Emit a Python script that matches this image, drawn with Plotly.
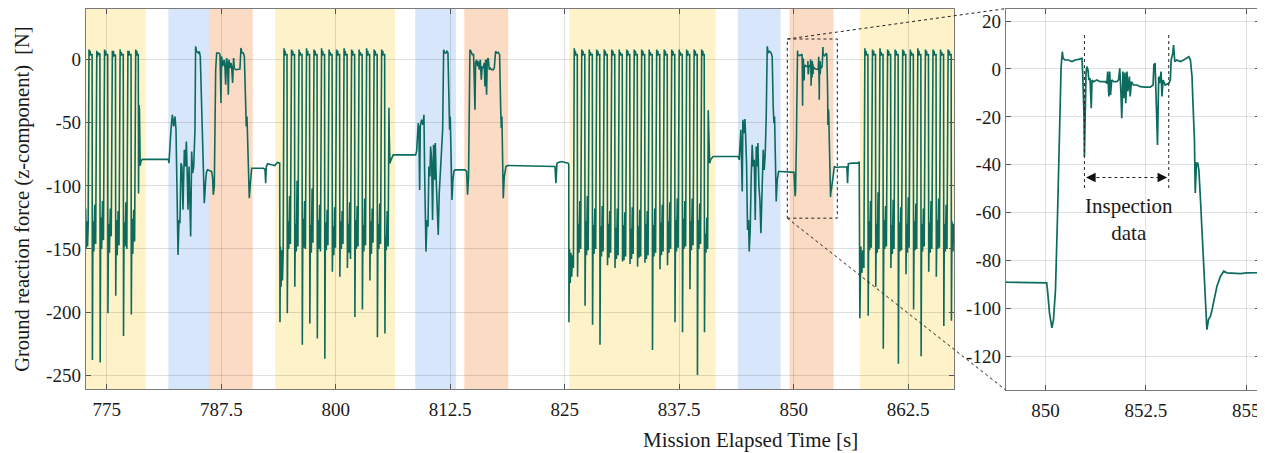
import plotly.graph_objects as go

# ---------------- data ----------------
# background phase bands [s]
band_start = [772.70, 781.72, 786.16, 793.40, 808.68, 814.03, 825.49, 843.90, 849.55, 857.22]
band_end = [779.25, 786.16, 790.93, 806.46, 813.12, 818.83, 841.47, 848.57, 854.35, 867.50]
band_phase = ["yellow", "blue", "orange", "yellow", "blue", "orange", "yellow", "blue", "orange", "yellow"]

# ground reaction force trace: (time [s], force [N]) pairs, segment by segment
walk1 = [
    (772.70, -118), (772.75, -150), (772.82, -128), (772.90, -148), (772.97, -132),
    (773.06, 8), (773.11, 3), (773.18, 7), (773.22, 4), (773.40, 4), (773.43, -238), (773.49, -128), (773.59, -152), (773.69, -115), (773.79, -146),
    (773.91, 7), (773.96, 2), (774.03, 6), (774.07, 4), (774.25, 5), (774.28, -240), (774.34, -125), (774.44, -150), (774.54, -112), (774.64, -143),
    (774.76, 8), (774.81, 3), (774.88, 7), (774.92, 4), (775.10, 4), (775.13, -201), (775.19, -130), (775.29, -153), (775.39, -118), (775.49, -140),
    (775.61, 7), (775.66, 2), (775.73, 7), (775.77, 3), (775.95, 4), (775.98, -187), (776.04, -127), (776.14, -155), (776.24, -120), (776.34, -147),
    (776.46, 8), (776.51, 3), (776.58, 6), (776.62, 4), (776.80, 4), (776.83, -219), (776.89, -129), (776.99, -148), (777.09, -113), (777.19, -150),
    (777.31, 7), (777.36, 3), (777.43, 7), (777.47, 4), (777.65, 4), (777.68, -202), (777.74, -126), (777.84, -154), (777.94, -119), (778.04, -144),
    (778.16, 8), (778.21, 3), (778.28, 7), (778.32, 4), (778.44, 4), (778.47, -106), (778.52, -36), (778.57, -40), (778.65, -84), (778.75, -80), (778.90, -79),
]
transfer1 = [
    (781.72, -78.8), (781.79, -82.0), (782.01, -55.6), (782.16, -43.6), (782.30, -52.9), (782.45, -45.0), (782.56, -55.6),
    (782.63, -88.6), (782.70, -129.6), (782.78, -154.8), (782.89, -127.0), (782.99, -129.6), (783.10, -82.0), (783.21, -84.7),
    (783.32, -119.0), (783.47, -71.4), (783.58, -84.7), (783.69, -64.8), (783.79, -92.6), (783.87, -119.0), (783.98, -84.7),
    (784.09, -116.4), (784.16, -140.2), (784.27, -72.8), (784.38, -89.9), (784.49, -84.7), (784.63, -55.6), (784.70, 10.6),
    (784.81, 6.6), (784.99, 5.3), (785.10, 6.6), (785.21, 2.6), (785.36, -42.3), (785.43, -52.9), (785.54, -84.7),
    (785.65, -113.8), (785.80, -95.2), (785.90, -88.6), (786.01, -87.3), (786.45, -88.6), (786.56, -93.9), (786.63, -107.1),
    (786.74, -100.5), (786.89, -7.9), (787.00, 5.3), (787.25, 5.3), (787.36, 4.0), (787.47, -34.4), (787.54, 2.6),
    (787.65, -5.3), (787.72, -2.6), (787.83, 0.0), (787.91, -6.6), (787.98, -19.8), (788.09, 1.3), (788.20, -5.3),
    (788.27, -27.8), (788.34, 0.0), (788.45, -6.6), (788.56, -2.6), (788.63, -5.3), (788.74, -18.5), (788.85, 1.3),
    (788.92, -6.6), (789.07, -7.9), (789.36, -7.9), (789.54, -7.4), (789.65, 9.3), (789.76, 5.3), (789.91, 5.3),
    (790.02, 2.6), (790.16, -34.4), (790.23, -52.9), (790.31, -45.0), (790.42, -74.1), (790.56, -109.8), (790.71, -95.2),
    (790.82, -86.0), (791.18, -86.0), (792.09, -86.0), (792.27, -86.8), (792.35, -97.9), (792.42, -84.7), (792.56, -82.5),
    (793.00, -83.3), (793.36, -83.9), (793.62, -81.5), (793.88, -82.0),
]
walk2 = [
    (793.91, -208), (793.96, -148), (794.03, -180), (794.10, -151), (794.18, -175), (794.26, -153),
    (794.35, 9), (794.40, 3), (794.47, 7), (794.51, 4), (794.68, 4), (794.71, -201), (794.77, -128), (794.87, -150), (794.96, -108), (795.05, -146),
    (795.17, 8), (795.22, 3), (795.29, 7), (795.33, 4), (795.50, 4), (795.53, -180), (795.59, -130), (795.69, -152), (795.78, -96), (795.87, -148),
    (795.99, 8), (796.04, 3), (796.11, 6), (796.15, 4), (796.32, 4), (796.35, -226), (796.41, -126), (796.51, -149), (796.60, -112), (796.69, -150),
    (796.81, 9), (796.86, 3), (796.93, 7), (796.97, 4), (797.14, 4), (797.17, -209), (797.23, -131), (797.33, -153), (797.42, -102), (797.51, -145),
    (797.63, 8), (797.68, 3), (797.75, 7), (797.79, 4), (797.96, 4), (797.99, -221), (798.05, -127), (798.15, -150), (798.24, -115), (798.33, -152),
    (798.45, 9), (798.50, 3), (798.57, 7), (798.61, 4), (798.78, 4), (798.81, -237), (798.87, -129), (798.97, -151), (799.06, -119), (799.15, -147),
    (799.27, 8), (799.32, 3), (799.39, 6), (799.43, 4), (799.60, 4), (799.63, -168), (799.69, -132), (799.79, -155), (799.88, -117), (799.97, -149),
    (800.09, 8), (800.14, 3), (800.21, 7), (800.25, 4), (800.42, 4), (800.45, -172), (800.51, -128), (800.61, -150), (800.70, -120), (800.79, -146),
    (800.91, 9), (800.96, 3), (801.03, 7), (801.07, 4), (801.24, 4), (801.27, -165), (801.33, -130), (801.43, -153), (801.52, -113), (801.61, -158),
    (801.73, 8), (801.78, 3), (801.85, 7), (801.89, 4), (802.06, 4), (802.09, -204), (802.15, -127), (802.25, -150), (802.34, -116), (802.43, -148),
    (802.55, 8), (802.60, 3), (802.67, 6), (802.71, 4), (802.88, 4), (802.91, -198), (802.97, -131), (803.07, -152), (803.16, -110), (803.25, -147),
    (803.37, 9), (803.42, 3), (803.49, 7), (803.53, 4), (803.70, 4), (803.73, -175), (803.79, -128), (803.89, -154), (803.98, -118), (804.07, -145),
    (804.19, 8), (804.24, 3), (804.31, 7), (804.35, 4), (804.52, 4), (804.55, -220), (804.61, -130), (804.71, -150), (804.80, -114), (804.89, -146),
    (805.01, 8), (805.06, 3), (805.13, 7), (805.17, 4), (805.34, 4), (805.37, -217), (805.43, -140), (805.52, -151), (805.62, -120), (805.72, -148),
    (805.81, -38), (805.84, -60), (805.92, -82), (806.00, -80), (806.28, -75.4),
]
transfer2 = [
    (808.72, -75.4), (808.83, -72.7), (809.01, -50.3), (809.08, -55.6), (809.16, -103.2), (809.23, -52.9), (809.37, -47.6),
    (809.52, -51.6), (809.63, -43.6), (809.70, -87.3), (809.77, -137.6), (809.85, -152.1), (809.96, -127.0), (810.07, -132.3),
    (810.17, -84.7), (810.28, -92.6), (810.36, -68.8), (810.47, -79.4), (810.57, -127.0), (810.68, -67.5), (810.79, -95.2),
    (810.87, -66.1), (810.98, -97.9), (811.08, -116.4), (811.19, -138.9), (811.30, -105.8), (811.41, -89.9), (811.52, -82.0),
    (811.67, -55.6), (811.78, 7.9), (811.92, 5.3), (812.03, 5.3), (812.14, 6.6), (812.25, 5.3), (812.36, -37.0),
    (812.43, -55.6), (812.50, -45.0), (812.58, -79.4), (812.69, -111.1), (812.79, -95.2), (812.90, -88.6), (813.01, -87.3),
    (814.10, -87.3), (814.29, -88.6), (814.39, -107.1), (814.50, -92.6), (814.65, 7.9), (814.76, 6.6), (814.91, 4.0),
    (815.05, 4.0), (815.20, -39.7), (815.27, -2.6), (815.38, 0.0), (815.49, -5.3), (815.56, -1.3), (815.67, -7.9),
    (815.78, 0.0), (815.89, -15.9), (815.99, -5.3), (816.11, -6.6), (816.21, -2.6), (816.29, -21.2), (816.36, 0.0),
    (816.47, -27.8), (816.54, 0.0), (816.65, 1.3), (816.76, -7.9), (816.87, -6.6), (817.02, -7.9), (817.20, -7.9),
    (817.31, -6.6), (817.45, 6.6), (817.60, 5.3), (817.74, 5.8), (817.89, 4.0), (818.00, -37.0), (818.07, -54.2),
    (818.14, -45.0), (818.22, -82.0), (818.29, -109.8), (818.40, -92.6), (818.58, -84.7), (818.76, -83.9), (823.93, -84.7),
    (824.04, -97.9), (824.15, -82.0), (824.29, -81.5), (824.66, -80.7), (825.38, -82.0), (825.44, -83.0),
]
walk3 = [
    (825.46, -208), (825.52, -150), (825.60, -177), (825.68, -153), (825.76, -172), (825.85, -155), (825.95, -165),
    (826.04, 9), (826.09, 3), (826.16, 7), (826.20, 4), (826.37, 4), (826.40, -172), (826.46, -130), (826.56, -153), (826.65, -112), (826.74, -150),
    (826.86, 8), (826.91, 3), (826.98, 7), (827.02, 4), (827.19, 4), (827.22, -195), (827.28, -128), (827.38, -155), (827.47, -108), (827.56, -151),
    (827.68, 8), (827.73, 3), (827.80, 6), (827.84, 4), (828.01, 4), (828.04, -210), (828.10, -131), (828.20, -154), (828.29, -118), (828.38, -150),
    (828.49, 8), (828.54, 3), (828.61, 7), (828.65, 4), (828.82, 4), (828.85, -226), (828.91, -132), (829.01, -156), (829.10, -116), (829.19, -152),
    (829.31, 8), (829.36, 3), (829.43, 7), (829.47, 4), (829.64, 4), (829.67, -163), (829.73, -130), (829.83, -157), (829.92, -120), (830.01, -153),
    (830.13, 8), (830.18, 3), (830.25, 7), (830.29, 4), (830.46, 4), (830.49, -165), (830.55, -133), (830.65, -158), (830.74, -118), (830.83, -155),
    (830.95, 8), (831.00, 3), (831.07, 6), (831.11, 4), (831.28, 4), (831.31, -160), (831.37, -131), (831.47, -159), (831.56, -121), (831.65, -156),
    (831.77, 8), (831.82, 3), (831.89, 7), (831.93, 4), (832.10, 4), (832.13, -162), (832.19, -134), (832.29, -158), (832.38, -117), (832.47, -154),
    (832.59, 8), (832.64, 3), (832.71, 7), (832.75, 4), (832.92, 4), (832.95, -164), (833.01, -132), (833.11, -157), (833.20, -119), (833.29, -156),
    (833.40, 8), (833.45, 3), (833.52, 7), (833.56, 4), (833.73, 4), (833.76, -161), (833.82, -130), (833.92, -158), (834.01, -120), (834.10, -155),
    (834.22, 8), (834.27, 3), (834.34, 6), (834.38, 4), (834.55, 4), (834.58, -230), (834.64, -131), (834.74, -156), (834.83, -118), (834.92, -153),
    (835.04, 8), (835.09, 3), (835.16, 7), (835.20, 4), (835.37, 4), (835.40, -166), (835.46, -129), (835.56, -155), (835.65, -115), (835.74, -152),
    (835.86, 8), (835.91, 3), (835.98, 7), (836.02, 4), (836.19, 4), (836.22, -163), (836.28, -128), (836.38, -153), (836.47, -113), (836.56, -150),
    (836.68, 8), (836.73, 3), (836.80, 7), (836.84, 4), (837.01, 4), (837.04, -208), (837.10, -127), (837.20, -152), (837.29, -110), (837.38, -149),
    (837.50, 8), (837.55, 3), (837.62, 6), (837.66, 4), (837.83, 4), (837.86, -216), (837.92, -126), (838.02, -150), (838.11, -112), (838.20, -148),
    (838.31, 8), (838.36, 3), (838.43, 7), (838.47, 4), (838.64, 4), (838.67, -182), (838.73, -128), (838.83, -151), (838.92, -110), (839.01, -147),
    (839.13, 8), (839.18, 3), (839.25, 7), (839.29, 4), (839.46, 4), (839.49, -250), (839.55, -127), (839.65, -150), (839.74, -114), (839.83, -146),
    (839.95, 8), (840.00, 3), (840.07, 7), (840.11, 4), (840.23, 4), (840.26, -216), (840.32, -138), (840.42, -153), (840.52, -125), (840.60, -150),
    (840.67, -40), (840.72, -55), (840.82, -82), (840.95, -79), (841.20, -76.7),
]
transfer3 = [
    (843.94, -76.7), (844.05, -79.4), (844.23, -55.6), (844.38, -104.5), (844.45, -47.6), (844.56, -58.2), (844.67, -47.1),
    (844.74, -58.2), (844.85, -82.0), (844.96, -134.9), (845.07, -127.0), (845.14, -152.1), (845.25, -134.9), (845.36, -92.6),
    (845.47, -67.5), (845.58, -84.7), (845.69, -79.4), (845.80, -127.0), (845.91, -68.8), (846.02, -84.7), (846.09, -66.1),
    (846.20, -100.5), (846.31, -111.1), (846.42, -137.6), (846.56, -89.9), (846.67, -71.4), (846.78, -87.3), (846.89, -74.1),
    (847.00, -45.0), (847.11, 10.6), (847.22, 5.3), (847.36, 6.6), (847.51, 5.8), (847.65, 2.6), (847.76, -37.0),
    (847.84, -50.3), (847.91, -45.0), (847.98, -74.1), (848.09, -112.4), (848.20, -95.2), (848.35, -88.6), (848.53, -88.6),
]
inspection = [
    (849.04, -89.0), (850.03, -89.3), (850.05, -92.1), (850.10, -101.8), (850.16, -108.1), (850.20, -104.6), (850.25, -92.1),
    (850.30, -61.5), (850.33, -40.7), (850.37, -19.9), (850.39, 1.0), (850.42, 7.2), (850.44, 4.4), (850.49, 3.75),
    (850.57, 3.75), (850.66, 3.1), (850.74, 3.75), (850.82, 4.0), (850.91, 4.4), (850.93, -3.2), (850.96, -19.9),
    (850.97, -36.5), (850.99, -12.9), (851.01, -1.8), (851.03, 1.0), (851.06, -0.4), (851.08, -4.6), (851.11, -3.9),
    (851.14, -16.4), (851.16, -4.6), (851.20, -5.3), (851.28, -4.6), (851.36, -5.3), (851.49, -5.3), (851.53, -6.0),
    (851.55, -1.1), (851.58, -11.5), (851.60, -1.1), (851.62, -10.8), (851.65, -4.6), (851.70, -5.3), (851.78, -5.3),
    (851.82, -4.6), (851.85, 0.3), (851.88, -10.1), (851.90, -20.6), (851.93, -1.1), (851.95, -12.2), (851.98, -1.5),
    (852.00, -14.3), (852.03, -1.1), (852.05, -9.4), (852.09, -3.2), (852.11, -11.5), (852.14, -5.3), (852.19, -6.7),
    (852.28, -6.7), (852.36, -7.4), (852.48, -7.6), (852.61, -7.6), (852.68, -6.7), (852.70, 1.7), (852.73, 2.4),
    (852.75, -10.1), (852.78, -21.9), (852.79, -31.7), (852.82, -3.2), (852.84, -6.0), (852.88, -1.1), (852.90, -11.5),
    (852.93, -4.6), (852.98, -6.7), (853.07, -6.0), (853.11, -4.6), (853.13, 3.75), (853.17, 6.5), (853.19, 10.0),
    (853.22, 3.1), (853.27, 3.75), (853.36, 3.1), (853.44, 3.75), (853.52, 4.4), (853.57, 5.1), (853.61, 3.75),
    (853.65, -3.2), (853.67, -12.9), (853.71, -29.6), (853.73, -51.8), (853.76, -39.3), (853.79, -39.3), (853.82, -42.1),
    (853.86, -54.6), (853.90, -68.5), (853.94, -86.5), (853.98, -100.4), (854.02, -108.8), (854.06, -104.6), (854.11, -103.2),
    (854.15, -100.4), (854.19, -97.6), (854.23, -93.5), (854.27, -90.7), (854.36, -86.5), (854.44, -84.4), (854.52, -85.1),
    (854.69, -85.4), (854.85, -85.4), (855.02, -85.1), (855.34, -85.1),
]
standing4 = [
    (855.80, -85.0), (855.88, -97.9), (855.96, -82.5), (856.40, -82.0), (857.11, -82.0), (857.15, -80.7),
]
walk4 = [
    (857.22, -205), (857.33, -148), (857.44, -169), (857.55, -151), (857.66, -165),
    (857.77, 9), (857.82, 3), (857.89, 7), (857.93, 4), (858.10, 4), (858.13, -203), (858.19, -128), (858.29, -151), (858.38, -112), (858.47, -149),
    (858.60, 8), (858.65, 3), (858.72, 7), (858.76, 4), (858.93, 4), (858.96, -180), (859.02, -130), (859.12, -153), (859.21, -105), (859.30, -150),
    (859.42, 9), (859.47, 3), (859.54, 6), (859.58, 4), (859.75, 4), (859.78, -229), (859.84, -127), (859.94, -150), (860.03, -116), (860.12, -148),
    (860.25, 8), (860.30, 3), (860.37, 7), (860.41, 4), (860.58, 4), (860.61, -165), (860.67, -131), (860.77, -154), (860.86, -111), (860.95, -150),
    (861.07, 8), (861.12, 3), (861.19, 7), (861.23, 4), (861.40, 4), (861.43, -241), (861.49, -129), (861.59, -152), (861.68, -117), (861.77, -151),
    (861.90, 8), (861.95, 3), (862.02, 7), (862.06, 4), (862.23, 4), (862.26, -170), (862.32, -130), (862.42, -153), (862.51, -109), (862.60, -149),
    (862.73, 8), (862.78, 3), (862.85, 6), (862.89, 4), (863.06, 4), (863.09, -198), (863.15, -128), (863.25, -151), (863.34, -114), (863.43, -150),
    (863.55, 9), (863.60, 3), (863.67, 7), (863.71, 4), (863.88, 4), (863.91, -235), (863.97, -130), (864.07, -152), (864.16, -118), (864.25, -148),
    (864.38, 8), (864.43, 3), (864.50, 7), (864.54, 4), (864.71, 4), (864.74, -168), (864.80, -129), (864.90, -153), (864.99, -112), (865.08, -150),
    (865.21, 8), (865.26, 3), (865.33, 7), (865.37, 4), (865.54, 4), (865.57, -172), (865.63, -127), (865.73, -150), (865.82, -110), (865.91, -149),
    (866.03, 8), (866.08, 3), (866.15, 6), (866.19, 4), (866.36, 4), (866.39, -211), (866.45, -130), (866.55, -152), (866.64, -115), (866.73, -150),
    (866.86, 8), (866.91, 3), (866.98, 7), (867.02, 4), (867.19, 4), (867.22, -207), (867.28, -128), (867.38, -152), (867.47, -130),
]

# tick labels
main_xticks = [775, 787.5, 800, 812.5, 825, 837.5, 850, 862.5]
main_yticks = [0, -50, -100, -150, -200, -250]
inset_xticks = [850, 852.5, 855]
inset_yticks = [20, 0, -20, -40, -60, -80, -100, -120]

# zoomed window (box in main plot) and inspection interval
zoom_box_x = [849.3, 854.76]
zoom_box_y = [-125.6, 16.4]
inspect_bounds = [850.97, 853.07]
inspect_marker_top = [15.3, 14.4]
inspect_marker_bottom = -49.7
inspect_arrow_y = -45.3
inspect_label_pos = (852.07, -62.7)

# ---------------- figure ----------------
series = walk1 + transfer1 + walk2 + transfer2 + walk3 + transfer3 + inspection + standing4 + walk4
t_vals = [p[0] for p in series]
f_vals = [p[1] for p in series]

OFF = 8  # page body margin of the html page
W, H = 1265 - OFF, 453 - OFF


def px_x(p):
    return (p - OFF) / W


def px_y(p):
    return 1 - (p - OFF) / H


main_xr = [772.7, 867.5]
main_yr = [-261.0, 40.5]
ins_xr = [849.01, 855.33]
ins_yr = [-134.0, 25.2]
main_xd = [px_x(85.7), px_x(954.0)]
main_yd = [px_y(389.0), px_y(8.6)]
ins_xd = [px_x(1005.7), px_x(1259.5)]
ins_yd = [px_y(390.0), px_y(8.6)]

FONT = "Liberation Serif"
LINE = "#0c6b5e"
TXT = "#1a1a1a"
band_colors = {"yellow": "#fdf2c8", "blue": "#d8e6fb", "orange": "#fcdbc5"}

fig = go.Figure()
fig.add_trace(go.Scatter(x=t_vals, y=f_vals, mode="lines", line=dict(color=LINE, width=1.6),
                         xaxis="x", yaxis="y", showlegend=False, hoverinfo="skip"))
fig.add_trace(go.Scatter(x=t_vals, y=f_vals, mode="lines", line=dict(color=LINE, width=1.7),
                         xaxis="x2", yaxis="y2", showlegend=False, hoverinfo="skip"))

shapes = []
for s, e, p in zip(band_start, band_end, band_phase):
    shapes.append(dict(type="rect", xref="x", yref="y domain", x0=s, x1=e, y0=0, y1=1,
                       fillcolor=band_colors[p], line=dict(width=0), layer="below"))

# zoom box
shapes.append(dict(type="rect", xref="x", yref="y", x0=zoom_box_x[0], x1=zoom_box_x[1],
                   y0=zoom_box_y[0], y1=zoom_box_y[1], line=dict(color="#222", width=1, dash="dot"),
                   layer="above"))


def to_paper(x, y, xr, yr, xd, yd):
    px = xd[0] + (x - xr[0]) / (xr[1] - xr[0]) * (xd[1] - xd[0])
    py = yd[0] + (y - yr[0]) / (yr[1] - yr[0]) * (yd[1] - yd[0])
    return px, py


# connector lines box -> inset
for by, iy in ((zoom_box_y[1], ins_yr[1]), (zoom_box_y[0], ins_yr[0])):
    x0, y0 = to_paper(zoom_box_x[0], by, main_xr, main_yr, main_xd, main_yd)
    x1, y1 = to_paper(ins_xr[0], iy, ins_xr, ins_yr, ins_xd, ins_yd)
    shapes.append(dict(type="line", xref="paper", yref="paper", x0=x0, y0=y0, x1=x1, y1=y1,
                       line=dict(color="#222", width=1, dash="dot")))

# inspection markers in the inset
for xb, top in zip(inspect_bounds, inspect_marker_top):
    shapes.append(dict(type="line", xref="x2", yref="y2", x0=xb, x1=xb, y0=inspect_marker_bottom, y1=top,
                       line=dict(color="#222", width=1, dash="dot")))
shapes.append(dict(type="line", xref="x2", yref="y2", x0=inspect_bounds[0] + 0.15, x1=inspect_bounds[1] - 0.15,
                   y0=inspect_arrow_y, y1=inspect_arrow_y, line=dict(color="#222", width=1, dash="dot")))

annotations = [
    dict(x=inspect_bounds[0] + 0.04, y=inspect_arrow_y, ax=inspect_bounds[0] + 0.25, ay=inspect_arrow_y,
         xref="x2", yref="y2", axref="x2", ayref="y2", text="", showarrow=True,
         arrowhead=2, arrowsize=1.6, arrowwidth=1.2, arrowcolor="#111"),
    dict(x=inspect_bounds[1] - 0.04, y=inspect_arrow_y, ax=inspect_bounds[1] - 0.25, ay=inspect_arrow_y,
         xref="x2", yref="y2", axref="x2", ayref="y2", text="", showarrow=True,
         arrowhead=2, arrowsize=1.6, arrowwidth=1.2, arrowcolor="#111"),
    dict(x=inspect_label_pos[0], y=inspect_label_pos[1], xref="x2", yref="y2", text="Inspection<br>data",
         showarrow=False, font=dict(family=FONT, size=21, color=TXT), align="center",
         xanchor="center", yanchor="middle"),
    dict(x=px_x(23), y=(main_yd[0] + main_yd[1]) / 2, xref="paper", yref="paper", textangle=-90,
         text="Ground reaction force (z-component) \u00a0[N]", showarrow=False,
         font=dict(family=FONT, size=20.5, color=TXT), xanchor="center", yanchor="middle"),
    dict(x=px_x(750), y=px_y(440), xref="paper", yref="paper", text="Mission Elapsed Time [s]",
         showarrow=False, font=dict(family=FONT, size=21, color=TXT), xanchor="center", yanchor="middle"),
]


def fmt(v):
    return "%g" % v


axis_common = dict(showline=True, linecolor="#7a7a7a", linewidth=1, mirror="ticks", ticks="inside",
                   ticklen=5, tickcolor="#555", showgrid=True, gridcolor="rgba(0,0,0,0.12)", gridwidth=1,
                   zeroline=False, tickfont=dict(family=FONT, size=19, color=TXT))

fig.update_layout(
    width=W, height=H, margin=dict(l=0, r=0, t=0, b=0),
    paper_bgcolor="white", plot_bgcolor="white", showlegend=False,
    xaxis=dict(domain=main_xd, range=main_xr, tickvals=main_xticks, ticktext=[fmt(v) for v in main_xticks],
               anchor="y", ticklabelstandoff=3, **axis_common),
    yaxis=dict(domain=main_yd, range=main_yr, tickvals=main_yticks, ticktext=[fmt(v) for v in main_yticks],
               anchor="x", **axis_common),
    xaxis2=dict(domain=ins_xd, range=ins_xr, tickvals=inset_xticks, ticktext=[fmt(v) for v in inset_xticks],
                anchor="y2", ticklabelstandoff=3, **axis_common),
    yaxis2=dict(domain=ins_yd, range=ins_yr, tickvals=inset_yticks, ticktext=[fmt(v) for v in inset_yticks],
                anchor="x2", **axis_common),
    shapes=shapes, annotations=annotations,
)

fig.write_html("out.html")
